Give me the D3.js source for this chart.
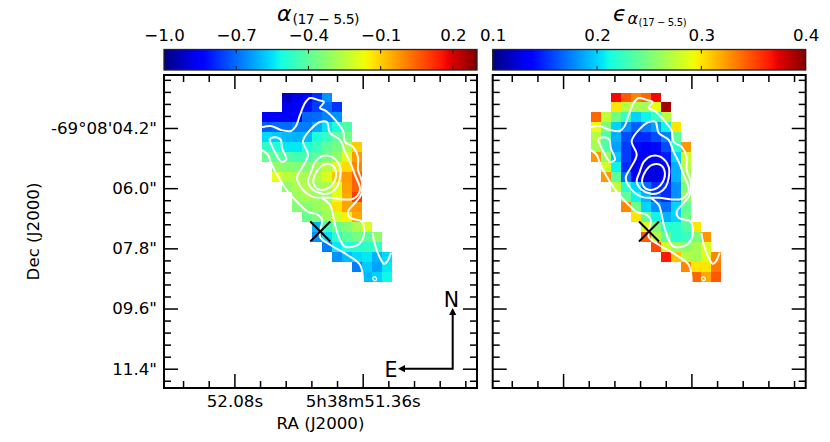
<!DOCTYPE html>
<html><head><meta charset="utf-8">
<script src="https://cdnjs.cloudflare.com/ajax/libs/d3/7.8.5/d3.min.js"></script>
<style>html,body{margin:0;padding:0;background:#fff}svg{display:block}text{font-family:"DejaVu Sans";fill:#000}</style>
</head><body><svg id="c" width="830" height="442"></svg>
<script>
// ---- data -----
const rowStart=[2,2,0,0,0,0,0,1,1,2,3,3,4,5,5,6,7,9,10];
const alphaRows=[
[-.93,-.88,-.85,-.78,-.65],
[-.88,-.86,-.82,-.76,-.7,-.77],
[-.86,-.86,-.86,-.84,-.71,-.7,-.67,-.65],
[-.72,-.7,-.7,-.68,-.68,-.62,-.55,-.5,-.42],
[-.56,-.58,-.6,-.61,-.6,-.5,-.46,-.4,-.37],
[-.47,-.5,-.54,-.54,-.5,-.46,-.4,-.36,-.28,-.1],
[-.38,-.4,-.42,-.44,-.43,-.4,-.36,-.32,-.2,-.03],
[-.32,-.33,-.34,-.34,-.3,-.26,-.2,-.12,0],
[-.18,-.25,-.27,-.28,-.27,-.2,-.09,-.03,.05],
[-.32,-.28,-.27,-.3,-.28,-.2,-.04,.05],
[-.3,-.28,-.3,-.3,-.18,-.05,.1],
[-.34,-.33,-.31,-.28,-.13,-.04,-.03],
[-.38,-.35,-.3,-.22,-.15,-.05],
[-.6,-.45,-.38,-.34,-.28,-.2],
[-.65,-.55,-.48,-.4,-.36,-.4,-.32],
[-.68,-.54,-.5,-.48,-.47,-.46],
[-.65,-.6,-.56,-.54,-.61,-.56],
[-.68,-.58,-.63,-.54],
[-.6,-.57,-.52]];
const errorRows=[
[.37,.345,.33,.34,.37],
[.3,.27,.265,.265,.29,.39],
[.34,.275,.245,.225,.2,.21,.225,.27],
[.29,.25,.2,.18,.165,.175,.185,.21,.3],
[.27,.235,.19,.16,.15,.15,.16,.175,.24],
[.265,.235,.185,.155,.14,.135,.14,.16,.22,.325],
[.325,.26,.195,.155,.135,.13,.13,.145,.2,.28],
[.28,.21,.15,.13,.125,.125,.135,.19,.27],
[.325,.24,.17,.135,.125,.125,.135,.19,.26],
[.275,.22,.2,.17,.15,.15,.18,.25],
[.24,.21,.19,.16,.15,.18,.26],
[.33,.245,.2,.18,.17,.2,.24],
[.3,.24,.21,.19,.2,.245],
[.285,.25,.22,.22,.235,.3],
[.345,.27,.24,.22,.225,.25,.325],
[.35,.28,.26,.255,.265,.285],
[.365,.31,.27,.265,.285,.33],
[.33,.3,.3,.335],
[.34,.32,.345]];
const contourA=[[0,3.48],[.9,3.35],[1.9,3.75],[2.9,3.85],[3.4,3.35],[3.8,2.25],[4.3,1.05],[4.8,.55],[5.6,.75],[6.2,.95],[5.8,1.55],[6.4,1.85],[7.4,2.85],[8.1,3.85],[8.3,4.95],[9.1,5.45],[9.6,6.45],[9.6,7.75],[10,8.95],[9.9,10.25],[9.3,11.05],[8.6,11.95],[8.8,12.55],[10,12.95],[10.2,14.25],[9.6,15.25],[8.3,15.45],[7.8,14.75],[7.3,13.25],[7.1,12.25],[6.8,11.25],[6,10.55]];
const contourB=[[6.5,2.95],[5.8,2.95],[5,3.55],[4.1,4.85],[4.6,6.25],[4,7.55],[3.5,8.55],[4.1,9.75],[5.1,10.45],[6.8,10.55],[9.1,10.65],[9.8,9.75],[9.3,8.25],[8.8,6.95],[8.3,5.95],[7.8,4.75],[6.8,4.05],[6.6,3.25]];
const contourC=[[0,5.75],[.6,6.25],[.9,7.05],[1.4,8.05],[1.8,8.75],[2.6,9.95],[3.5,10.95],[4.6,11.95],[5.6,12.25],[6,12.75],[5.8,14.45],[6.8,15.25],[8.5,16.25],[9.8,17.25],[10.1,18.95]];
const contourD=[[11.07,14.05],[11.3,15.25],[11.9,16.75],[12.2,17.15],[12.5,16.95],[12.9,16.05]];
const contourE=[[.77,4.72],[1.27,4.48],[1.87,4.72],[2,5.55],[2.43,6.72],[1.93,6.95],[1.43,6.22],[.93,5.22]];
const contourF=[[4.6,8.95],[5.1,9.75],[6,10.15],[6.8,10.05],[7.5,9.45],[7.8,8.55],[7.8,7.45],[7,6.45],[6.1,6.35],[5.3,6.95],[4.9,7.95]];
const contourG=[[5.13,8.92],[5.47,7.92],[6.13,7.25],[6.97,7.25],[7.4,7.92],[7.23,8.92],[6.63,9.58],[5.8,9.75],[5.3,9.42]];
const contourH=[[11.07,18.58],[11.3,18.48],[11.47,18.68],[11.3,18.85],[11.13,18.75]];
const openContours=[contourA,contourC,contourD];
const closedContours=[contourB,contourE,contourF,contourG,contourH];
const crossAt=[5.83,13.92];
const alphaTicks=[-1,-.7,-.4,-.1,.2];
const errorTicks=[.1,.2,.3,.4];
const alphaDomain=[-1,.3];
const errorDomain=[.1,.4];
const raMajor=[52.08,51.36];
const raLabels=["52.08s","5h38m51.36s"];
const decMajor=[4.2,6,7.8,9.6,11.4];
const decLabels=["-69°08'04.2\"","06.0\"","07.8\"","09.6\"","11.4\""];
const raMinor=[52.368,52.224,51.936,51.792,51.648,51.504,51.216,51.072,50.928,50.784];
const decMinor=[2.76,3.12,3.48,3.84,4.56,4.92,5.28,5.64,6.36,6.72,7.08,7.44,8.16,8.52,8.88,9.24,9.96,10.32,10.68,11.04,11.76];

// ---- jet ----
const jr=d3.scaleLinear().domain([0,.35,.66,.89,1]).range([0,0,1,1,.5]).clamp(true);
const jg=d3.scaleLinear().domain([0,.125,.375,.64,.91,1]).range([0,0,1,1,0,0]).clamp(true);
const jb=d3.scaleLinear().domain([0,.11,.34,.65,1]).range([.5,1,1,0,0]).clamp(true);
const jet=t=>d3.rgb(255*jr(t),255*jg(t),255*jb(t)).formatHex();

const svg=d3.select("#c");
const W=313, H=313, panelTop=75;
const defs=svg.append("defs");
defs.append("linearGradient").attr("id","jet").selectAll("stop").data(d3.range(0,1.0001,1/128)).join("stop")
  .attr("offset",d=>d).attr("stop-color",d=>jet(d));

const xS=d3.scaleLinear().domain([52.475,50.7186]).range([0,W]);
const yS=d3.scaleLinear().domain([2.615,11.977]).range([0,H]);
const gx=d3.scaleLinear().domain([0,13]).range([98,228]);
const gy=d3.scaleLinear().domain([0,19]).range([17.5,207.2]);
const fs=16.67;

function panel(x0,rows,domain,ticks,fmt,showLabels){
  const g=svg.append("g").attr("transform",`translate(${x0},${panelTop})`);
  const norm=d3.scaleLinear().domain(domain).range([0,1]);
  rows.forEach((vals,r)=>{
    g.append("g").selectAll("rect").data(vals).join("rect")
      .attr("x",(d,i)=>gx(rowStart[r]+i)).attr("y",gy(r))
      .attr("width",gx(1)-gx(0)).attr("height",gy(1)-gy(0))
      .attr("shape-rendering","crispEdges")
      .attr("fill",d=>jet(norm(d)));
  });
  const line=d3.line().x(d=>gx(d[0])).y(d=>gy(d[1]));
  const col=g.append("g").attr("fill","none").attr("stroke","#fff").attr("stroke-width",2).attr("stroke-linejoin","round");
  openContours.forEach(c=>col.append("path").attr("d",line.curve(d3.curveCatmullRom.alpha(.5))(c)));
  closedContours.forEach(c=>col.append("path").attr("d",line.curve(d3.curveCatmullRomClosed.alpha(.5))(c)).attr("stroke-width",c===contourH?1.3:2));
  // X marker
  const cx=gx(crossAt[0]),cy=gy(crossAt[1]);
  const s=10;
  [[-1,-1,1,1],[-1,1,1,-1]].forEach(p=>g.append("line")
    .attr("x1",cx+p[0]*s).attr("y1",cy+p[1]*s).attr("x2",cx+p[2]*s).attr("y2",cy+p[3]*s)
    .attr("stroke","#000").attr("stroke-width",2));

  const style=(a)=>{a.select(".domain").remove();a.selectAll("line").attr("stroke","#000").attr("stroke-width",1.5);};
  const xb=d3.axisBottom(xS).tickValues(raMajor).tickSize(-14).tickPadding(6.7).tickFormat((d,i)=>showLabels?raLabels[i]:"");
  const xt=d3.axisTop(xS).tickValues(raMajor).tickSize(-14).tickFormat("");
  const xbm=d3.axisBottom(xS).tickValues(raMinor).tickSize(-7).tickFormat("");
  const xtm=d3.axisTop(xS).tickValues(raMinor).tickSize(-7).tickFormat("");
  const yl=d3.axisLeft(yS).tickValues(decMajor).tickSize(-14).tickPadding(7).tickFormat((d,i)=>showLabels?decLabels[i]:"");
  const yr=d3.axisRight(yS).tickValues(decMajor).tickSize(-14).tickFormat("");
  const ylm=d3.axisLeft(yS).tickValues(decMinor).tickSize(-7).tickFormat("");
  const yrm=d3.axisRight(yS).tickValues(decMinor).tickSize(-7).tickFormat("");
  [[xb,0,H],[xbm,0,H],[xt,0,0],[xtm,0,0],[yl,0,0],[ylm,0,0],[yr,W,0],[yrm,W,0]].forEach(([ax,dx,dy])=>{
    const a=g.append("g").attr("transform",`translate(${dx},${dy})`).call(ax);
    style(a);
    a.selectAll("text").attr("font-size",fs).attr("font-family","DejaVu Sans").attr("fill","#000");
  });
  g.append("rect").attr("width",W).attr("height",H).attr("fill","none").attr("stroke","#000").attr("stroke-width",2);

  // colorbar
  const cb=svg.append("g").attr("transform",`translate(${x0},49.5)`);
  const cbh=20.5;
  const cs=d3.scaleLinear().domain(domain).range([0,W]);
  cb.append("rect").attr("width",W).attr("height",cbh).attr("fill","url(#jet)");
  const tk=d3.axisTop(cs).tickValues(ticks).tickSize(0).tickPadding(8.5).tickFormat(fmt);
  const ca=cb.append("g").call(tk); ca.select(".domain").remove();
  ca.selectAll("text").attr("font-size",fs).attr("font-family","DejaVu Sans").attr("fill","#000");
  const inner=ticks.filter(t=>t>domain[0]&&t<domain[1]);
  [[0,4],[cbh,cbh-4]].forEach(([a,b])=>cb.append("g").selectAll("line").data(inner).join("line")
     .attr("x1",d=>cs(d)).attr("x2",d=>cs(d)).attr("y1",a).attr("y2",b).attr("stroke","#111").attr("stroke-width",1));
  cb.append("rect").attr("width",W).attr("height",cbh).attr("fill","none").attr("stroke","#222").attr("stroke-width",1.3);
}
const f1=d=>d3.format(".1f")(d);
panel(164,alphaRows,alphaDomain,alphaTicks,f1,true);
panel(492.7,errorRows,errorDomain,errorTicks,f1,false);

// titles
const serif='"Liberation Serif","DejaVu Serif",serif';
const t1=svg.append("text").attr("x",277).attr("y",20.5).attr("font-family",serif);
t1.append("tspan").attr("font-size",22).attr("font-style","italic").text("α");
t1.append("tspan").attr("font-size",14).attr("dy",3).attr("dx",1).attr("textLength",67).text("(17 − 5.5)");
const t2=svg.append("text").attr("x",613).attr("y",20.5).attr("font-family",serif);
t2.append("tspan").attr("font-size",22).attr("font-style","italic").text("ϵ");
t2.append("tspan").attr("font-size",16).attr("font-style","italic").attr("dy",3).attr("dx",1).text("α");
t2.append("tspan").attr("font-size",10).attr("dy",2).attr("dx",.5).attr("textLength",48).text("(17 − 5.5)");

// axis titles
svg.append("text").attr("x",320.5).attr("y",429).attr("text-anchor","middle").attr("font-size",fs).text("RA (J2000)");
svg.append("text").attr("transform","translate(39,231.5) rotate(-90)").attr("text-anchor","middle").attr("font-size",fs).text("Dec (J2000)");

// compass
const ax=452.7, ay=368.7;
const comp=svg.append("g");
comp.append("path").attr("d",d3.line()([[ax,310],[ax,ay],[403,ay]])).attr("fill","none").attr("stroke","#000").attr("stroke-width",2);
comp.append("path").attr("d",d3.line()([[ax,308],[ax-3.6,315],[ax+3.6,315]])+"Z").attr("fill","#000");
comp.append("path").attr("d",d3.line()([[398,ay],[405,ay-3.6],[405,ay+3.6]])+"Z").attr("fill","#000");
svg.append("text").attr("x",451.5).attr("y",306.8).attr("text-anchor","middle").attr("font-size",20.5).text("N");
svg.append("text").attr("x",391).attr("y",377.3).attr("text-anchor","middle").attr("font-size",20.5).text("E");
</script></body></html>
